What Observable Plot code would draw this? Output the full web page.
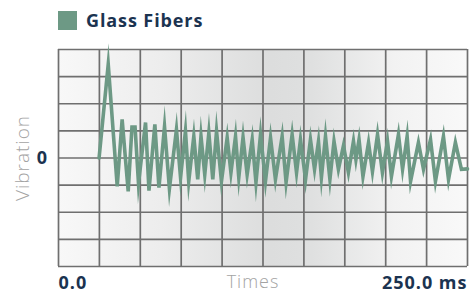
<!DOCTYPE html>
<html>
<head>
<meta charset="utf-8">
<script src="https://cdn.jsdelivr.net/npm/d3@7"></script>
<script src="https://cdn.jsdelivr.net/npm/@observablehq/plot@0.6"></script>
<style>
  html, body { margin: 0; padding: 0; background: #fff; }
  #wrap { width: 472px; height: 294px; position: relative; overflow: hidden; font-family: "Open Sans", sans-serif; }
  #title { height: 36px; position: relative; }
  #title .sw { position: absolute; left: 58px; top: 11px; width: 19px; height: 19px; background: #6d9985; }
  #title .tx { position: absolute; left: 86px; top: 8px; font-size: 18px; line-height: 24px; font-weight: 700; color: #1b3350; letter-spacing: 0.9px; }
</style>
</head>
<body>
<div id="wrap">
  <div id="title"><div class="sw"></div><div class="tx">Glass Fibers</div></div>
  <div id="chart"></div>
</div>
<script>
const seriesName = "Glass Fibers";
const times = [24.8, 30.4, 35.9, 38.9, 42.6, 44.9, 46.8, 48.9, 53.2, 55.3, 58.9, 61.4, 64.8, 67.8, 72.1, 74.6, 77.6, 79.6, 82.7, 85.1, 87.1, 89.4, 91.9, 94.3, 96.6, 99.6, 103.1, 105.4, 108.2, 110.2, 112.8, 115.3, 118.4, 120.7, 123.5, 126.5, 129.6, 132.6, 136.7, 139.1, 142.8, 145.5, 147.9, 151.0, 154.0, 156.5, 158.9, 160.7, 163.2, 165.9, 168.4, 171.1, 174.2, 177.2, 180.3, 181.8, 183.7, 186.1, 189.5, 191.9, 195.0, 198.0, 201.1, 203.5, 207.8, 210.3, 213.1, 215.2, 220.0, 223.1, 227.4, 230.4, 235.3, 238.4, 242.6, 246.3, 250.0];
const vibration = [0, 3.45, -1.05, 1.42, -1.23, 1.14, 1.14, -0.94, 1.31, -1.20, 1.24, -1.09, 1.16, -1.13, 1.05, -0.72, 0.99, -0.86, 0.80, -0.79, 0.80, -0.61, 0.93, -0.79, 0.99, -0.86, 0.75, -0.54, 0.80, -0.72, 0.76, -0.61, 0.68, -0.90, 0.87, -0.86, 0.75, -0.79, 0.80, -0.90, 0.87, -0.54, 0.68, -0.79, 0.68, -0.42, 0.61, -0.72, 0.80, -0.79, 0.62, -0.42, 0.46, -0.54, 0.62, -0.06, 0.68, -0.68, 0.57, -0.50, 0.87, -0.54, 0.62, -0.68, 0.87, -0.42, 0.80, -0.86, 0.57, -0.42, 0.68, -0.86, 0.80, -0.79, 0.57, -0.42, -0.40];
const xGridTicks = [0, 25, 50, 75, 100, 125, 150, 175, 200, 225, 250];
const yGridTicks = [-4, -3, -2, -1, 0, 1, 2, 3, 4];
const xTickLabels = ["0.0", "250.0 ms"];
const xTickValues = [0, 250];
const yTickLabels = ["0"];
const yTickValues = [0];
const xLabel = "Times";
const yLabel = "Vibration";

const data = times.map((t, i) => ({t, v: vibration[i]}));

const ink = "#1b3350";
const soft = "#a3a3a3";

const plot = Plot.plot({
  width: 472,
  height: 258,
  marginTop: 13,
  marginBottom: 28,
  marginLeft: 58,
  marginRight: 5,
  style: {fontFamily: "Open Sans, sans-serif", background: "transparent", overflow: "visible", letterSpacing: "1px"},
  x: {domain: [0, 250], axis: null},
  y: {domain: [-4, 4], axis: null},
  marks: [
    Plot.frame({fill: "url(#bgGrad)", stroke: null}),
    Plot.gridX(xGridTicks, {stroke: "#6f6f6f", strokeOpacity: 1, strokeWidth: 1.7}),
    Plot.gridY(yGridTicks, {stroke: "#6f6f6f", strokeOpacity: 1, strokeWidth: 1.7}),
    Plot.line(data, {x: "t", y: "v", stroke: "#6d9985", strokeWidth: 3.6, strokeLinejoin: "miter", strokeMiterlimit: 12}),
    Plot.text([xTickValues[0]], {x: d => d, frameAnchor: "bottom", lineAnchor: "middle", dy: 17, text: () => xTickLabels[0], textAnchor: "start", fontSize: 18, fontWeight: 700, fill: ink}),
    Plot.text([xTickValues[1]], {x: d => d, frameAnchor: "bottom", lineAnchor: "middle", dy: 17, text: () => xTickLabels[1], textAnchor: "end", fontSize: 18, fontWeight: 700, fill: ink}),
    Plot.text([xLabel], {frameAnchor: "bottom", lineAnchor: "middle", dy: 16, dx: -10, text: d => d, fontSize: 18, fontWeight: 300, fill: soft}),
    Plot.text(yTickValues, {y: d => d, frameAnchor: "left", dx: -16, textAnchor: "middle", text: (d, i) => yTickLabels[i], fontSize: 18, fontWeight: 700, fill: ink}),
    Plot.text([yLabel], {frameAnchor: "left", dx: -36, rotate: -90, textAnchor: "middle", text: d => d, fontSize: 19, fontWeight: 300, fill: soft})
  ]
});

const ns = "http://www.w3.org/2000/svg";
const defs = document.createElementNS(ns, "defs");
const grad = document.createElementNS(ns, "linearGradient");
grad.setAttribute("id", "bgGrad");
grad.setAttribute("x1", "0"); grad.setAttribute("x2", "1");
grad.setAttribute("y1", "0"); grad.setAttribute("y2", "0");
[["0%", "#f8f8f8"], ["25%", "#ededed"], ["52%", "#dcdddd"], ["62%", "#dfe0e0"], ["82%", "#f2f2f2"], ["100%", "#f9f9f9"]].forEach(([o, c]) => {
  const s = document.createElementNS(ns, "stop");
  s.setAttribute("offset", o); s.setAttribute("stop-color", c);
  grad.appendChild(s);
});
defs.appendChild(grad);
plot.insertBefore(defs, plot.firstChild);
document.getElementById("chart").appendChild(plot);
</script>
</body>
</html>
